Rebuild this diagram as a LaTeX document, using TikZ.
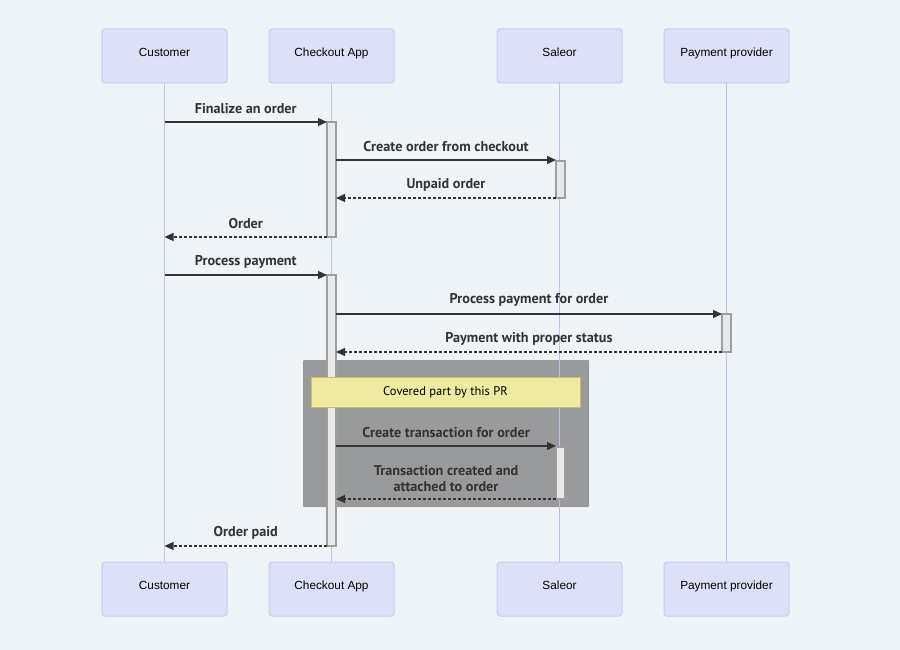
\documentclass[tikz,border=0pt]{standalone}
\usepackage{fontspec}
\setmainfont{Liberation Sans}
\newfontfamily\msgfont{PT Sans}
\usetikzlibrary{arrows.meta}

\definecolor{bgcol}{HTML}{EEF4F8}
\definecolor{actorfill}{HTML}{DDE1F7}
\definecolor{actorline}{HTML}{C8CBF2}
\definecolor{lifecol}{HTML}{C0C0EE}
\definecolor{actfill}{HTML}{E8E9EB}
\definecolor{actline}{HTML}{9E9E9E}
\definecolor{rectfill}{HTML}{989A9C}
\definecolor{notefill}{HTML}{EEEAA2}
\definecolor{noteline}{HTML}{C8C060}
\definecolor{msgcol}{HTML}{333333}

\tikzset{
  actor/.style={draw=actorline, fill=actorfill, rounded corners=3pt, line width=1pt,
    minimum width=125pt, minimum height=54pt, text height=9pt, text depth=8pt,
    font=\fontsize{11.8}{14}\selectfont},
  lifeline/.style={draw=lifecol, line width=1pt},
  activation/.style={draw=actline, fill=actfill, line width=1.2pt,
    minimum width=9pt, inner sep=0pt},
  msg/.style={draw=msgcol, line width=1.3pt, -{Triangle[length=9pt,width=8pt]}},
  reply/.style={msg, dash pattern=on 3pt off 2pt},
  msglabel/.style={font=\msgfont\bfseries\fontsize{14.2}{16}\selectfont, text=msgcol,
    align=center, inner sep=0pt},
}

\begin{document}
\begin{tikzpicture}[x=1pt, y=-1pt]
    \fill[bgcol] (0, 0) rectangle (900, 650);
    \useasboundingbox (0, 0) rectangle (900, 650);

    % actors
    \node[actor] at (164.5, 56) (customer) {Customer};
    \node[actor] at (331.5, 56) (checkout) {Checkout App};
    \node[actor] at (559.5, 56) (saleor) {Saleor};
    \node[actor] at (726.5, 56) (provider) {Payment provider};
    \node[actor] at (164.5, 589) (customerB) {Customer};
    \node[actor] at (331.5, 589) (checkoutB) {Checkout App};
    \node[actor] at (559.5, 589) (saleorB) {Saleor};
    \node[actor] at (726.5, 589) (providerB) {Payment provider};

    % critical region
    \fill[rectfill, rounded corners=1pt] (303, 360) rectangle (589, 507);

    % lifelines
    \draw[lifeline] (customer) -- (customerB);
    \draw[lifeline] (checkout) -- (checkoutB);
    \draw[lifeline] (saleor) -- (saleorB);
    \draw[lifeline] (provider) -- (providerB);

    % activations
    \node[activation, minimum height=115pt] at (331.5, 179.5) (act1) {};
    \node[activation, minimum height=37pt] at (560.5, 179.5) (act2) {};
    \node[activation, minimum height=271pt] at (331.5, 410.5) (act3) {};
    \node[activation, minimum height=38pt] at (726.5, 333) (act4) {};
    \node[activation, minimum height=52pt] at (560.5, 473) (act5) {};

    % note
    \node[draw=noteline, fill=notefill, line width=0.8pt, minimum width=269pt,
          minimum height=30pt, font=\msgfont\fontsize{12.5}{14}\selectfont]
          at (445.5, 392) (note) {Covered part by this PR};

    % message ends
    \coordinate (c1) at (164.5, 122);
    \coordinate (c2) at (164.5, 237);
    \coordinate (c3) at (164.5, 275);
    \coordinate (c4) at (164.5, 546);
    \coordinate (s1) at (556, 160);
    \coordinate (s2) at (556, 198);
    \coordinate (s3) at (556, 446);
    \coordinate (s4) at (556, 499);
    \coordinate (p1) at (722, 314);
    \coordinate (p2) at (722, 352);
    \coordinate (a1) at (327, 122);
    \coordinate (a2) at (336, 160);
    \coordinate (a3) at (336, 198);
    \coordinate (a4) at (327, 237);
    \coordinate (a5) at (327, 275);
    \coordinate (a6) at (336, 314);
    \coordinate (a7) at (336, 352);
    \coordinate (a8) at (336, 446);
    \coordinate (a9) at (336, 499);
    \coordinate (a10) at (327, 546);

    % messages
    \draw[msg] (c1) -- node[msglabel, yshift=13pt] {Finalize an order} (a1);
    \draw[msg] (a2) -- node[msglabel, yshift=13pt] {Create order from checkout} (s1);
    \draw[reply] (s2) -- node[msglabel, yshift=13pt] {Unpaid order} (a3);
    \draw[reply] (a4) -- node[msglabel, yshift=13pt] {Order} (c2);
    \draw[msg] (c3) -- node[msglabel, yshift=13pt] {Process payment} (a5);
    \draw[msg] (a6) -- node[msglabel, yshift=14pt] {Process payment for order} (p1);
    \draw[reply] (p2) -- node[msglabel, yshift=13pt] {Payment with proper status} (a7);
    \draw[msg] (a8) -- node[msglabel, yshift=13pt] {Create transaction for order} (s3);
    \draw[reply] (s4) -- node[msglabel, yshift=20pt] {Transaction created and\\attached to order} (a9);
    \draw[reply] (a10) -- node[msglabel, yshift=13pt] {Order paid} (c4);
\end{tikzpicture}
\end{document}
